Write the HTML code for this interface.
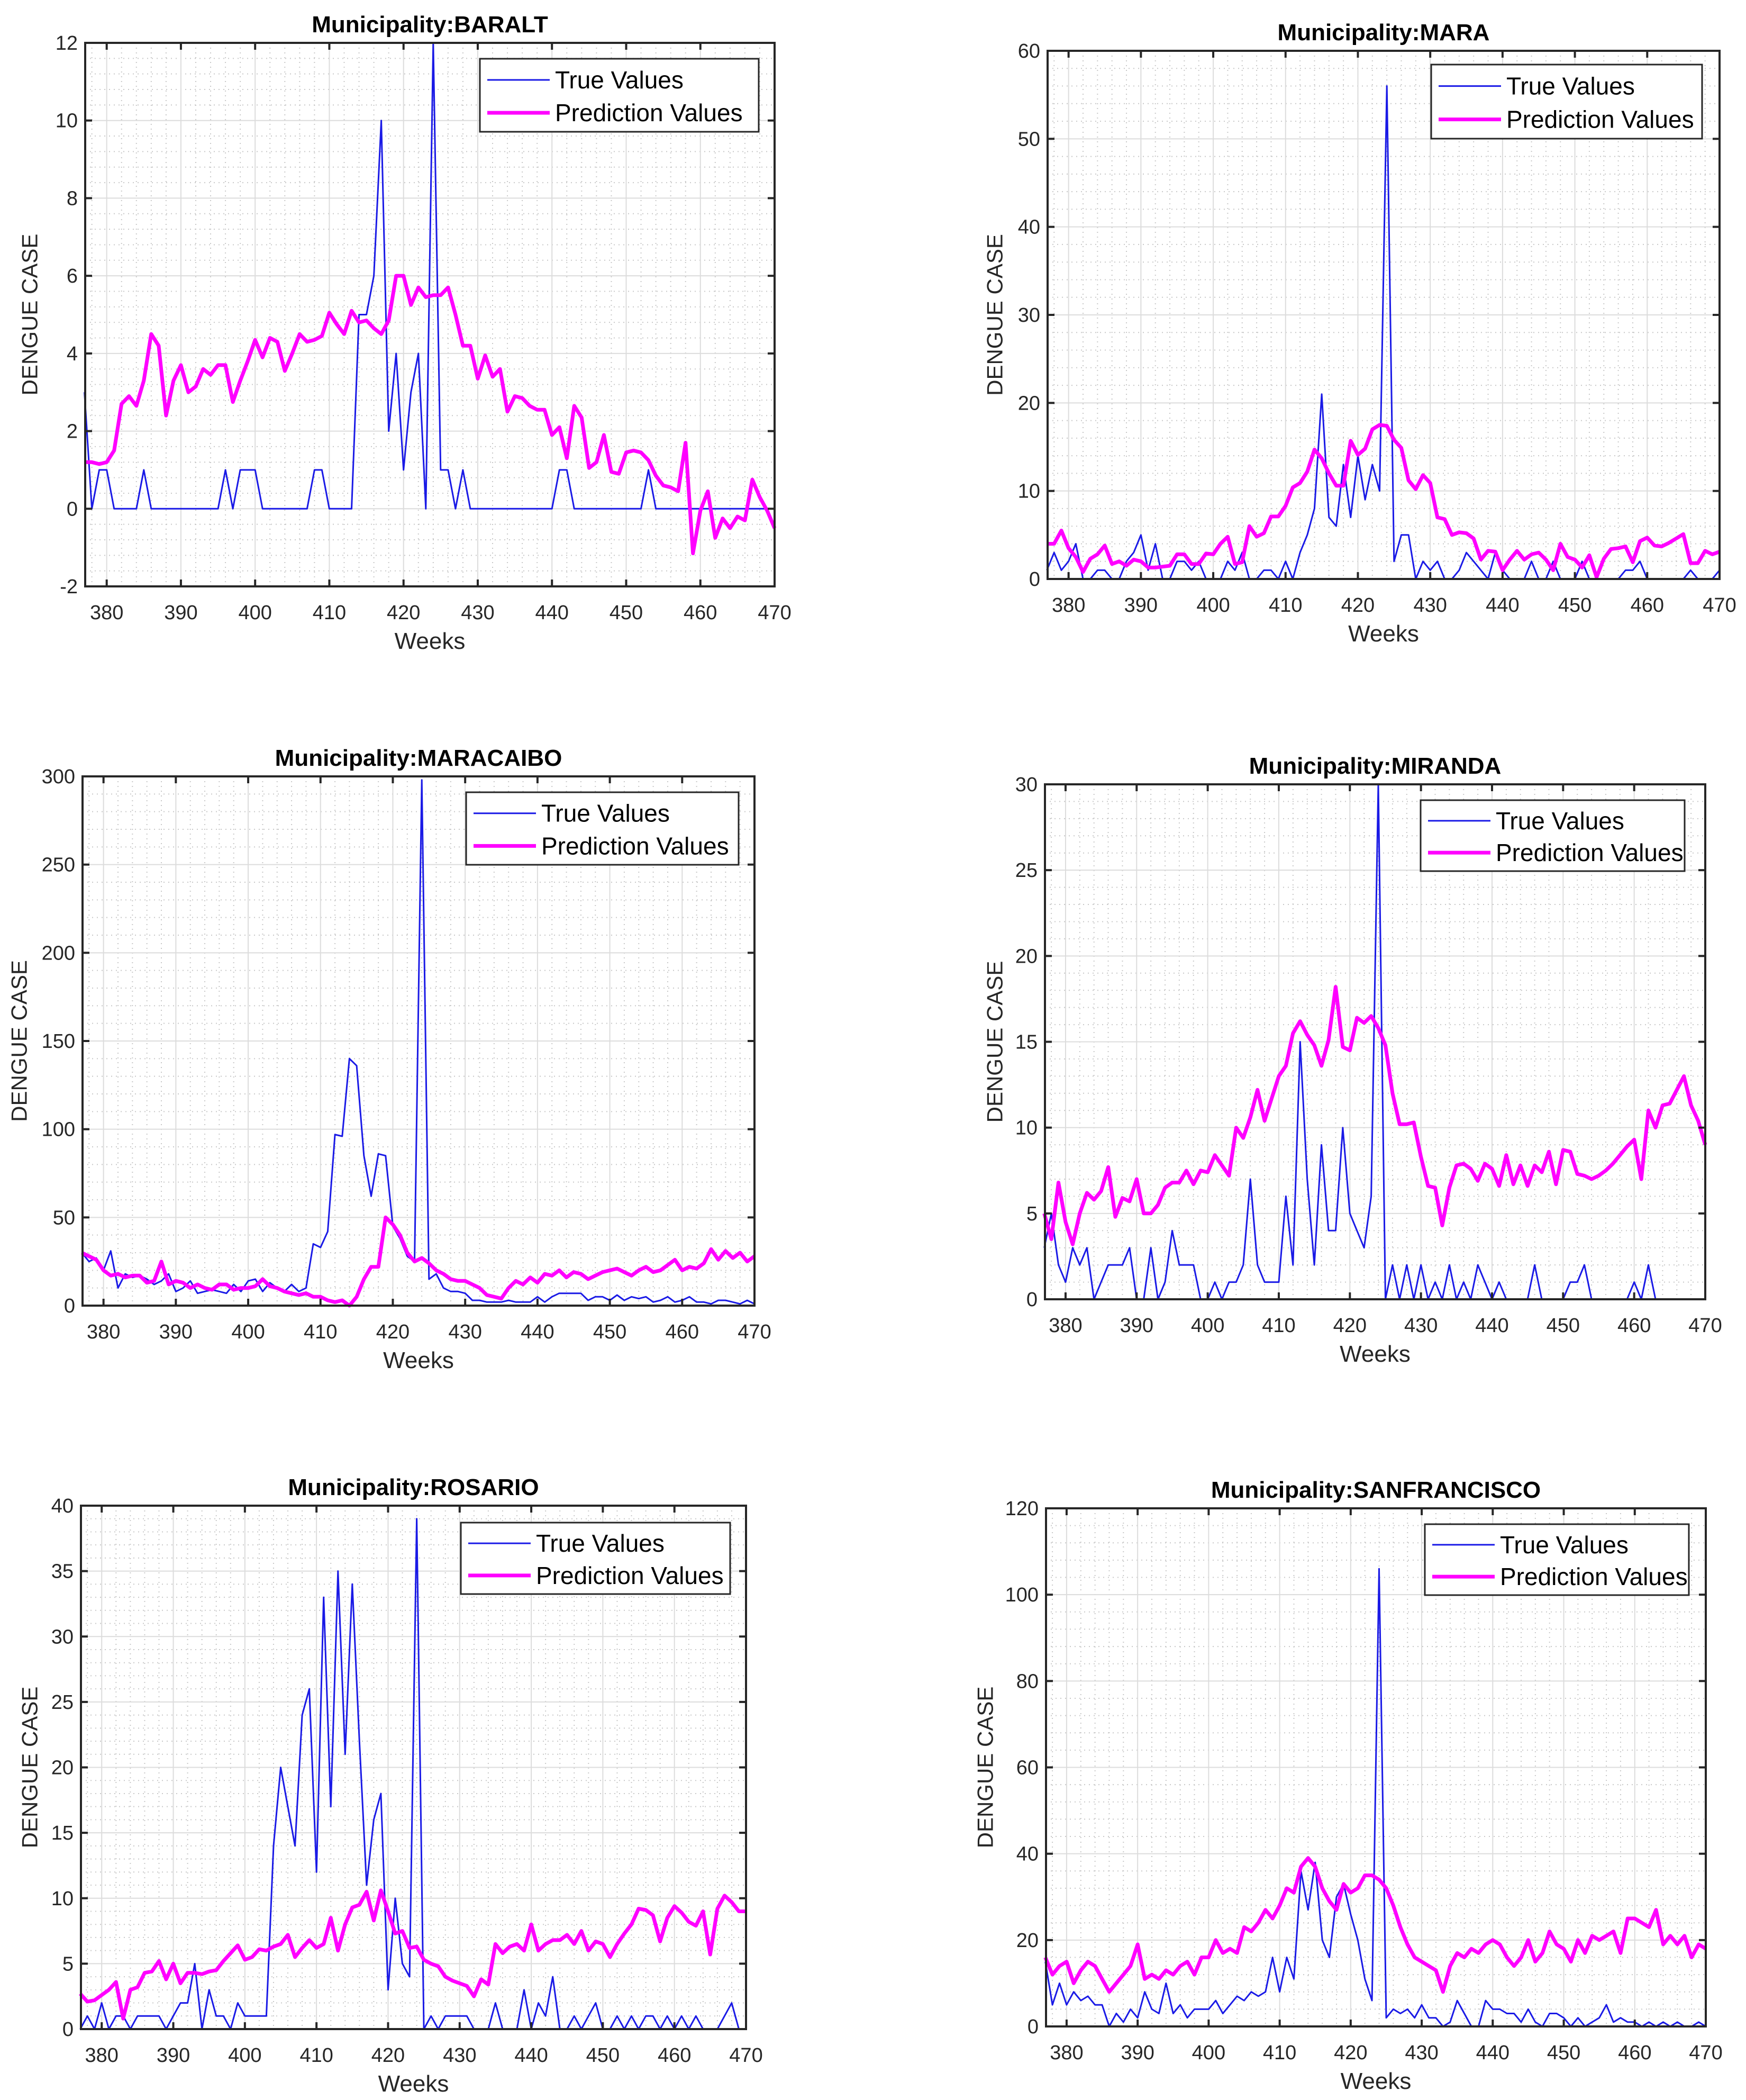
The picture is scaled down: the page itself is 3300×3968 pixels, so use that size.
<!DOCTYPE html>
<html><head><meta charset="utf-8">
<style>
html,body{margin:0;padding:0;background:#fff;}
svg{display:block;font-family:"Liberation Sans",Arial,sans-serif;}
</style></head>
<body>
<svg id="fig" width="3300" height="3968" viewBox="0 0 3300 3968" xmlns="http://www.w3.org/2000/svg"></svg>
<script>
// ---- data: weeks 377..470 ----
const weekStart = 377;
const weekEnd = 470;
const xTicks = [380,390,400,410,420,430,440,450,460,470];

const baraltTrue = [3,0,1,1,0,0,0,0,1,0, 0,0,0,0,0,0,0,0,0,1, 0,1,1,1,0,0,0,0,0,0, 0,1,1,0,0,0,0,5,5,6, 10,2,4,1,3,4,0,12,1,1, 0,1,0,0,0,0,0,0,0,0, 0,0,0,0,1,1,0,0,0,0, 0,0,0,0,0,0,1,0,0,0, 0,0,0,0,0,0,0,0,0,0, 0,0,0,0];
const baraltPred = [1.2,1.2,1.15,1.2,1.5,2.7,2.9,2.65,3.3,4.5, 4.2,2.4,3.3,3.7,3.0,3.15,3.6,3.45,3.7,3.7, 2.75,3.3,3.8,4.35,3.9,4.4,4.3,3.55,4.0,4.5, 4.3,4.35,4.45,5.05,4.75,4.5,5.1,4.8,4.85,4.65, 4.5,4.85,6.0,6.0,5.25,5.7,5.45,5.5,5.5,5.7, 5.0,4.2,4.2,3.35,3.95,3.4,3.6,2.5,2.9,2.85, 2.65,2.55,2.55,1.9,2.1,1.3,2.65,2.35,1.05,1.2, 1.9,0.95,0.9,1.45,1.5,1.45,1.25,0.85,0.6,0.55, 0.45,1.7,-1.15,-0.05,0.45,-0.75,-0.25,-0.5,-0.2,-0.3, 0.75,0.3,-0.05,-0.5];
const baraltYTicks = [-2,0,2,4,6,8,10,12];

const maraTrue = [1,3,1,2,4,0,0,1,1,0, 0,2,3,5,1,4,0,0,2,2, 1,2,0,0,0,2,1,3,0,0, 1,1,0,2,0,3,5,8,21,7, 6,13,7,14,9,13,10,56,2,5, 5,0,2,1,2,0,0,1,3,2, 1,0,3,1,0,0,0,2,0,0, 2,0,0,0,2,0,0,0,0,0, 1,1,2,0,0,0,0,0,0,1, 0,0,0,1];
const maraPred = [4,4,5.5,3.5,2.5,0.8,2.3,2.8,3.8,1.7, 2,1.5,2.2,2,1.3,1.3,1.4,1.5,2.8,2.8, 1.7,1.7,2.9,2.8,4,4.8,1.7,1.9,6,4.8, 5.2,7.1,7.1,8.3,10.4,10.9,12.2,14.7,13.7,12, 10.6,10.6,15.7,14.1,14.8,17,17.5,17.4,15.8,14.9, 11.2,10.2,11.8,10.9,7,6.8,5,5.3,5.2,4.6, 2.2,3.2,3.1,1,2.2,3.2,2.2,2.8,3,2.2, 1,4,2.5,2.2,1.3,2.7,0.2,2.3,3.4,3.5, 3.7,1.9,4.3,4.7,3.8,3.7,4.1,4.6,5.1,1.8, 1.8,3.2,2.8,3.1];
const maraYTicks = [0,10,20,30,40,50,60];

const maracaiboTrue = [30,25,27,20,31,10,18,16,17,15, 12,14,18,8,10,14,7,8,9,8, 7,12,8,14,15,8,13,10,8,12, 8,10,35,33,42,97,96,140,136,85, 62,86,85,45,38,28,25,298,15,18, 10,8,8,7,3,3,2,2,2,3, 2,2,2,5,2,5,7,7,7,7, 3,5,5,3,6,3,5,4,5,2, 3,5,2,3,5,2,2,1,3,3, 2,1,3,1];
const maracaiboPred = [30,28,26,20,17,18,16,17,17,13, 14,25,12,14,13,10,12,10,9,12, 12,9,10,10,11,15,11,10,8,7, 6,7,5,5,3,2,3,0,5,15, 22,22,50,46,40,30,25,27,24,20, 18,15,14,14,12,10,6,5,4,10, 14,12,16,13,18,17,20,16,19,18, 15,17,19,20,21,19,17,20,22,19, 20,23,26,20,22,21,24,32,26,31, 27,30,25,28];
const maracaiboYTicks = [0,50,100,150,200,250,300];

const mirandaTrue = [3,5,2,1,3,2,3,0,1,2, 2,2,3,0,0,3,0,1,4,2, 2,2,0,0,1,0,1,1,2,7, 2,1,1,1,6,2,15,7,2,9, 4,4,10,5,4,3,6,30,0,2, 0,2,0,2,0,1,0,2,0,1, 0,2,1,0,1,0,0,0,0,2, 0,0,0,0,1,1,2,0,0,0, 0,0,0,1,0,2,0,0,0,0, 0,0,0,0];
const mirandaPred = [5,3.5,6.8,4.5,3.2,5,6.2,5.8,6.3,7.7, 4.8,5.9,5.7,7,5,5,5.5,6.5,6.8,6.8, 7.5,6.7,7.5,7.4,8.4,7.8,7.2,10,9.4,10.6, 12.2,10.4,11.7,13,13.6,15.5,16.2,15.4,14.8,13.6, 15.1,18.2,14.7,14.5,16.4,16.1,16.5,15.8,14.8,12, 10.2,10.2,10.3,8.3,6.6,6.5,4.3,6.5,7.8,7.9, 7.6,6.9,7.9,7.6,6.6,8.4,6.7,7.8,6.6,7.8, 7.4,8.6,6.7,8.7,8.6,7.3,7.2,7,7.2,7.5, 7.9,8.4,8.9,9.3,7,11,10,11.3,11.4,12.2, 13,11.3,10.4,9];
const mirandaYTicks = [0,5,10,15,20,25,30];

const rosarioTrue = [0,1,0,2,0,1,1,0,1,1, 1,1,0,1,2,2,5,0,3,1, 1,0,2,1,1,1,1,14,20,17, 14,24,26,12,33,17,35,21,34,22, 11,16,18,3,10,5,4,39,0,1, 0,1,1,1,1,0,0,0,2,0, 0,0,3,0,2,1,4,0,0,1, 0,1,2,0,0,1,0,1,0,1, 1,0,1,0,1,0,1,0,0,0, 1,2,0,0];
const rosarioPred = [2.7,2.1,2.2,2.6,3,3.6,0.8,3,3.2,4.3, 4.4,5.2,3.8,5,3.5,4.3,4.3,4.2,4.4,4.5, 5.2,5.8,6.4,5.3,5.5,6.1,6,6.3,6.5,7.2, 5.5,6.2,6.8,6.2,6.5,8.5,6,8,9.3,9.5, 10.5,8.3,10.6,9,7.3,7.5,6.2,6.3,5.3,5, 4.8,4,3.7,3.5,3.3,2.5,3.8,3.4,6.5,5.8, 6.3,6.5,6,8,6,6.5,6.8,6.8,7.2,6.5, 7.5,6,6.7,6.5,5.5,6.5,7.3,8,9.2,9.1, 8.7,6.7,8.5,9.4,8.9,8.2,7.9,9,5.7,9.2, 10.2,9.7,9,9];
const rosarioYTicks = [0,5,10,15,20,25,30,35,40];

const sanfranTrue = [15,5,10,5,8,6,7,5,5,0, 3,1,4,2,8,4,3,10,3,5, 2,4,4,4,6,3,5,7,6,8, 7,8,16,8,16,11,36,27,38,20, 16,30,33,26,20,11,6,106,2,4, 3,4,2,5,2,2,0,1,6,3, 0,0,6,4,4,3,3,1,4,1, 0,3,3,2,0,2,0,1,2,5, 1,2,1,1,0,1,0,1,0,1, 0,0,1,0];
const sanfranPred = [16,12,14,15,10,13,15,14,11,8, 10,12,14,19,11,12,11,13,12,14, 15,12,16,16,20,17,18,17,23,22, 24,27,25,28,32,31,37,39,37,32, 29,27,33,31,32,35,35,34,32,28, 23,19,16,15,14,13,8,14,17,16, 18,17,19,20,19,16,14,16,20,15, 17,22,19,18,15,20,17,21,20,21, 22,17,25,25,24,23,27,19,21,19, 21,16,19,18];
const sanfranYTicks = [0,20,40,60,80,100,120];

// ---- layout ----
const panels = [
  {name:'baralt', title:'Municipality:BARALT', t:baraltTrue, p:baraltPred, yt:baraltYTicks, L:161,R:1464,T:81,B:1108, leg:[907,111,527,138], ylx:56},
  {name:'mara', title:'Municipality:MARA', t:maraTrue, p:maraPred, yt:maraYTicks, L:1980,R:3250,T:96,B:1094, leg:[2705,122,512,140], ylx:1880},
  {name:'maracaibo', title:'Municipality:MARACAIBO', t:maracaiboTrue, p:maracaiboPred, yt:maracaiboYTicks, L:156,R:1426,T:1467,B:2467, leg:[881,1497,515,137], ylx:36},
  {name:'miranda', title:'Municipality:MIRANDA', t:mirandaTrue, p:mirandaPred, yt:mirandaYTicks, L:1975,R:3223,T:1482,B:2455, leg:[2685,1512,499,134], ylx:1880},
  {name:'rosario', title:'Municipality:ROSARIO', t:rosarioTrue, p:rosarioPred, yt:rosarioYTicks, L:153,R:1410,T:2845,B:3834, leg:[871,2877,509,135], ylx:56},
  {name:'sanfrancisco', title:'Municipality:SANFRANCISCO', t:sanfranTrue, p:sanfranPred, yt:sanfranYTicks, L:1977,R:3224,T:2850,B:3829, leg:[2693,2880,499,134], ylx:1862}
];
const X0 = 377.1;
const NS = 'http://www.w3.org/2000/svg';
const svg = document.getElementById('fig');
function mk(tag, parent, attrs){
  const e = document.createElementNS(NS, tag);
  for (const k in attrs) e.setAttribute(k, attrs[k]);
  parent.appendChild(e); return e;
}
panels.forEach(pn=>{
  const g = mk('g', svg, {});
  
  
  const ymin = pn.yt[0], ymax = pn.yt[pn.yt.length-1];
  const xs = w => pn.L + (w - X0) / (weekEnd - X0) * (pn.R - pn.L);
  const ys = v => pn.B - (v - ymin) / (ymax - ymin) * (pn.B - pn.T);
  const gm = mk('g', g, {stroke:'#c8c8c8','stroke-width':2,'stroke-dasharray':'2 7'});
  
  
  for (let w = 378; w <= 470; w += 2) { if (w % 10) mk('line', gm, {x1:xs(w),x2:xs(w),y1:pn.T,y2:pn.B}); }
  const ystep = pn.yt[1]-pn.yt[0];
  for (let i = 0; i < pn.yt.length-1; i++) for (let k = 1; k < 5; k++) {
    const v = pn.yt[i] + ystep*k/5; mk('line', gm, {x1:pn.L,x2:pn.R,y1:ys(v),y2:ys(v)});
  }
  const gg = mk('g', g, {stroke:'#dcdcdc','stroke-width':2});
  
  
  xTicks.forEach(w=>mk('line', gg, {x1:xs(w),x2:xs(w),y1:pn.T,y2:pn.B}));
  pn.yt.forEach(v=>mk('line', gg, {x1:pn.L,x2:pn.R,y1:ys(v),y2:ys(v)}));
  const ptsT = pn.t.map((v,i)=>xs(weekStart+i).toFixed(1)+','+ys(v).toFixed(1)).join(' ');
  const ptsP = pn.p.map((v,i)=>xs(weekStart+i).toFixed(1)+','+ys(v).toFixed(1)).join(' ');
  const lt = mk('polyline', g, {points:ptsT, fill:'none', stroke:'#1a1ae6','stroke-width':3,'stroke-linejoin':'round'});
  
  
  const lp = mk('polyline', g, {points:ptsP, fill:'none', stroke:'#ff00ff','stroke-width':7,'stroke-linejoin':'round'});
  
  
  const box = mk('rect', g, {x:pn.L,y:pn.T,width:pn.R-pn.L,height:pn.B-pn.T,fill:'none',stroke:'#262626','stroke-width':4});
  
  
  const tk = mk('g', g, {stroke:'#262626','stroke-width':4});
  
  
  xTicks.forEach(w=>{
    mk('line', tk, {x1:xs(w),x2:xs(w),y1:pn.B,y2:pn.B-13});
    mk('line', tk, {x1:xs(w),x2:xs(w),y1:pn.T,y2:pn.T+13});
    const tx = mk('text', g, {x:xs(w), y:pn.B+62, 'font-size':38, fill:'#262626','text-anchor':'middle'});
    
    
    tx.textContent = w;
  });
  pn.yt.forEach(v=>{
    mk('line', tk, {x1:pn.L,x2:pn.L+13,y1:ys(v),y2:ys(v)});
    mk('line', tk, {x1:pn.R,x2:pn.R-13,y1:ys(v),y2:ys(v)});
    const tx = mk('text', g, {x:pn.L-14, y:ys(v)+13, 'font-size':38, fill:'#262626','text-anchor':'end'});
    
    
    tx.textContent = v;
  });
  const ti = mk('text', g, {x:(pn.L+pn.R)/2, y:pn.T-20, 'font-size':44,'font-weight':'bold', fill:'#000','text-anchor':'middle'});
  
  
  ti.textContent = pn.title;
  const xl = mk('text', g, {x:(pn.L+pn.R)/2, y:pn.B+118, 'font-size':44, fill:'#262626','text-anchor':'middle'});
  
  
  xl.textContent = 'Weeks';
  const yc = (pn.T+pn.B)/2;
  const yl = mk('text', g, {x:pn.ylx, y:yc, 'font-size':42, fill:'#262626','text-anchor':'middle','dominant-baseline':'central', transform:`rotate(-90 ${pn.ylx} ${yc})`});
  
  
  yl.textContent = 'DENGUE CASE';
  const [lx,ly,lw,lh] = pn.leg;
  const lg = mk('g', g, {});
  
  
  mk('rect', lg, {x:lx,y:ly,width:lw,height:lh,fill:'#fff',stroke:'#262626','stroke-width':3});
  mk('line', lg, {x1:lx+14,x2:lx+132,y1:ly+lh*0.29,y2:ly+lh*0.29,stroke:'#1a1ae6','stroke-width':3});
  mk('line', lg, {x1:lx+14,x2:lx+132,y1:ly+lh*0.74,y2:ly+lh*0.74,stroke:'#ff00ff','stroke-width':7});
  const e1 = mk('text', lg, {x:lx+142,y:ly+lh*0.29+16,'font-size':46,fill:'#000'});
  
  
  e1.textContent = 'True Values';
  const e2 = mk('text', lg, {x:lx+142,y:ly+lh*0.74+16,'font-size':46,fill:'#000'});
  
  
  e2.textContent = 'Prediction Values';
});
</script>
</body></html>
